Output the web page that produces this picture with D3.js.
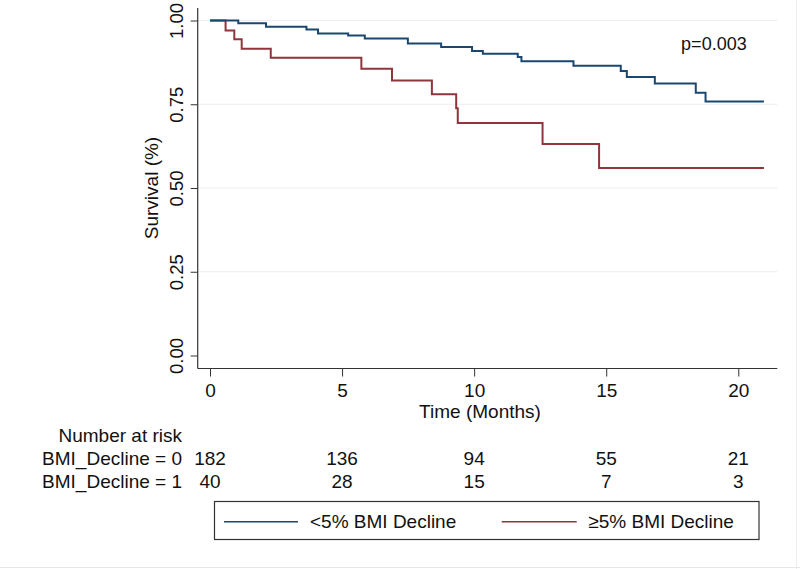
<!DOCTYPE html>
<html><head><meta charset="utf-8">
<script src="https://cdn.jsdelivr.net/npm/d3@7"></script>
<style>body{margin:0;background:#fff}svg{display:block}text{font-family:"Liberation Sans",Arial,sans-serif;fill:#111}</style>
</head><body><svg id="c" width="800" height="569"></svg>
<script>
// Data
const blueTimes = [0, 1.07, 2.12, 3.65, 4.09, 5.23, 5.86, 7.49, 8.75, 9.92, 10.33, 11.65, 11.79, 13.76, 15.55, 15.78, 16.84, 18.39, 18.76, 20.97];
const blueSurv  = [1, 0.992, 0.981, 0.973, 0.961, 0.955, 0.946, 0.931, 0.921, 0.909, 0.901, 0.891, 0.878, 0.865, 0.849, 0.831, 0.812, 0.784, 0.758, 0.758];
const redTimes  = [0, 0.59, 0.92, 1.2, 2.3, 5.73, 6.89, 8.40, 9.32, 9.38, 12.59, 14.73, 20.97];
const redSurv   = [1, 0.970, 0.944, 0.916, 0.889, 0.856, 0.821, 0.780, 0.738, 0.694, 0.631, 0.560, 0.560];
const xTicks = [0, 5, 10, 15, 20];
const yTicks = [0, 0.25, 0.5, 0.75, 1];
const riskLabels = ["BMI_Decline = 0", "BMI_Decline = 1"];
const riskRow0 = [182, 136, 94, 55, 21];
const riskRow1 = [40, 28, 15, 7, 3];
const legendLabels = ["<5% BMI Decline", "\u22655% BMI Decline"];
const pValue = "p=0.003";

const blue = "#1a476f", red = "#90353b", axisCol = "#333";
const svg = d3.select("#c");
const x = d3.scaleLinear().domain([0, 20]).range([210, 738.3]);
const y = d3.scaleLinear().domain([0, 1]).range([355.5, 20.5]);
const plotL = 197.7, plotR = 777.3, plotT = 8, plotB = 368.5;
const fs = "19px";
const ff = '"Liberation Sans",Arial,sans-serif';

// frame lines (page border)
svg.append("line").attr("x1",0).attr("x2",800).attr("y1",567.5).attr("y2",567.5).attr("stroke","#e6e6e6");
svg.append("line").attr("x1",796.5).attr("x2",796.5).attr("y1",0).attr("y2",569).attr("stroke","#eeeeee");

// gridlines
svg.append("g").selectAll("line").data(yTicks.filter(d=>d>0)).join("line")
  .attr("x1", plotL).attr("x2", plotR).attr("y1", d=>y(d)).attr("y2", d=>y(d))
  .attr("stroke", "#e9eef2").attr("stroke-width", 1.2);

// axes
const yAxis = svg.append("g").attr("transform", `translate(${plotL},0)`)
  .call(d3.axisLeft(y).tickValues(yTicks).tickSize(7).tickFormat(d3.format(".2f")));
yAxis.select(".domain").remove();
yAxis.selectAll(".tick line").attr("stroke", axisCol);
yAxis.selectAll(".tick text").attr("transform","rotate(-90)").attr("x",0).attr("y",-15).attr("dy",0)
  .attr("text-anchor","middle").style("font-size","18.5px").style("font-family",ff).attr("fill","#111");
svg.append("line").attr("x1",plotL).attr("x2",plotL).attr("y1",plotT).attr("y2",plotB).attr("stroke",axisCol).attr("stroke-width",1.2);

const xAxis = svg.append("g").attr("transform", `translate(0,${plotB})`)
  .call(d3.axisBottom(x).tickValues(xTicks).tickSize(8).tickFormat(d3.format("d")));
xAxis.select(".domain").remove();
xAxis.selectAll(".tick line").attr("stroke", axisCol);
xAxis.selectAll(".tick text").attr("y",28).attr("dy",0).style("font-size",fs)
  .style("font-family",ff).attr("fill","#111");
svg.append("line").attr("x1",plotL).attr("x2",plotR).attr("y1",plotB).attr("y2",plotB).attr("stroke",axisCol).attr("stroke-width",1.2);

// titles
svg.append("text").attr("transform",`translate(158,${(y(0)+y(1))/2}) rotate(-90)`).attr("text-anchor","middle")
  .style("font-size",fs).text("Survival (%)");
svg.append("text").attr("x",480).attr("y",417.5).attr("text-anchor","middle").style("font-size",fs).text("Time (Months)");
svg.append("text").attr("x",746.7).attr("y",50).attr("text-anchor","end").style("font-size","18px").text(pValue);

// curves
const line = d3.line().x(d=>x(d[0])).y(d=>y(d[1])).curve(d3.curveStepAfter);
svg.append("path").datum(d3.zip(redTimes, redSurv)).attr("d", line).attr("fill","none").attr("stroke",red).attr("stroke-width",2);
svg.append("path").datum(d3.zip(blueTimes, blueSurv)).attr("d", line).attr("fill","none").attr("stroke",blue).attr("stroke-width",2);

// number at risk
svg.append("text").attr("x",182).attr("y",441.5).attr("text-anchor","end").style("font-size",fs).text("Number at risk");
const rows = [riskRow0, riskRow1], rowY = [465.3, 488.3];
rows.forEach((r,i)=>{
  svg.append("text").attr("x",182).attr("y",rowY[i]).attr("text-anchor","end").style("font-size",fs).text(riskLabels[i]);
  svg.append("g").selectAll("text").data(r).join("text")
    .attr("x",(d,j)=>x(xTicks[j])).attr("y",rowY[i]).attr("text-anchor","middle").style("font-size",fs).text(d=>d);
});

// legend
svg.append("rect").attr("x",214.5).attr("y",501.5).attr("width",544.5).attr("height",38).attr("fill","#fff").attr("stroke","#333").attr("stroke-width",1.2);
const legItems = [{c:blue,x1:224,x2:298,tx:310},{c:red,x1:501.7,x2:576.7,tx:588.3}];
legItems.forEach((d,i)=>{
  svg.append("line").attr("x1",d.x1).attr("x2",d.x2).attr("y1",521.7).attr("y2",521.7).attr("stroke",d.c).attr("stroke-width",1.5);
  svg.append("text").attr("x",d.tx).attr("y",528.3).style("font-size",fs).text(legendLabels[i]);
});
</script></body></html>
